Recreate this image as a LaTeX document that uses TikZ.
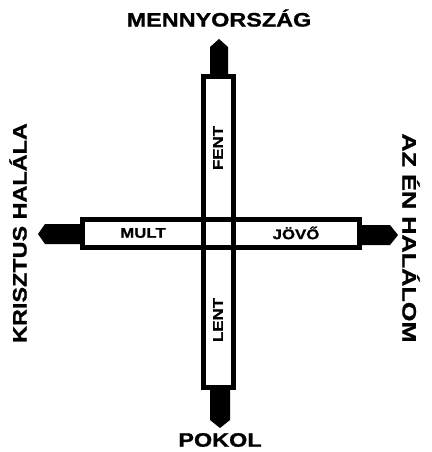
\documentclass[tikz,border=0pt]{standalone}
\usepackage{fontspec}
\newfontfamily\lbl[FakeStretch=1.2,FakeBold=1]{Liberation Sans}
\begin{document}
\begin{tikzpicture}[x=1pt,y=-1pt,
  bar/.style={line width=5pt, draw=black},
  tipcap/.style={fill=black, draw=none},
  big/.style={font=\lbl\bfseries\fontsize{19.5}{20}\selectfont, inner sep=0pt},
  small/.style={font=\lbl\bfseries\fontsize{14}{15}\selectfont, inner sep=0pt}]
\useasboundingbox[fill=white] (0,0) rectangle (431,452);
% caps
\fill[tipcap] (210,74) -- (210,47) -- (219,39) -- (228,47) -- (228,74) -- cycle;
\fill[tipcap] (210,389) -- (210,420) -- (220,428) -- (230,420) -- (230,389) -- cycle;
\fill[tipcap] (81,224) -- (45,224) -- (38,234) -- (45,244) -- (81,244) -- cycle;
\fill[tipcap] (361,225) -- (390,225) -- (398,235) -- (390,245) -- (361,245) -- cycle;
% bars
\draw[bar] (203.5,76) rectangle (233.5,387);
\draw[bar] (82.5,219.5) rectangle (359.5,247.5);
% labels
\node[big] (heaven) at (219,18) {MENNYORSZÁG};
\node[big] (hell) at (220,440) {POKOL};
\node[big, rotate=90] (christ) at (18,233) {KRISZTUS HALÁLA};
\node[big, rotate=-90, xscale=1.08] (mine) at (411,238) {AZ ÉN HALÁLOM};
\node[small, rotate=90] (up) at (218,148) {FENT};
\node[small, rotate=90] (down) at (218,320) {LENT};
\node[small] (past) at (143,233) {MULT};
\node[small] (future) at (296,233) {JÖVŐ};
\end{tikzpicture}
\end{document}
